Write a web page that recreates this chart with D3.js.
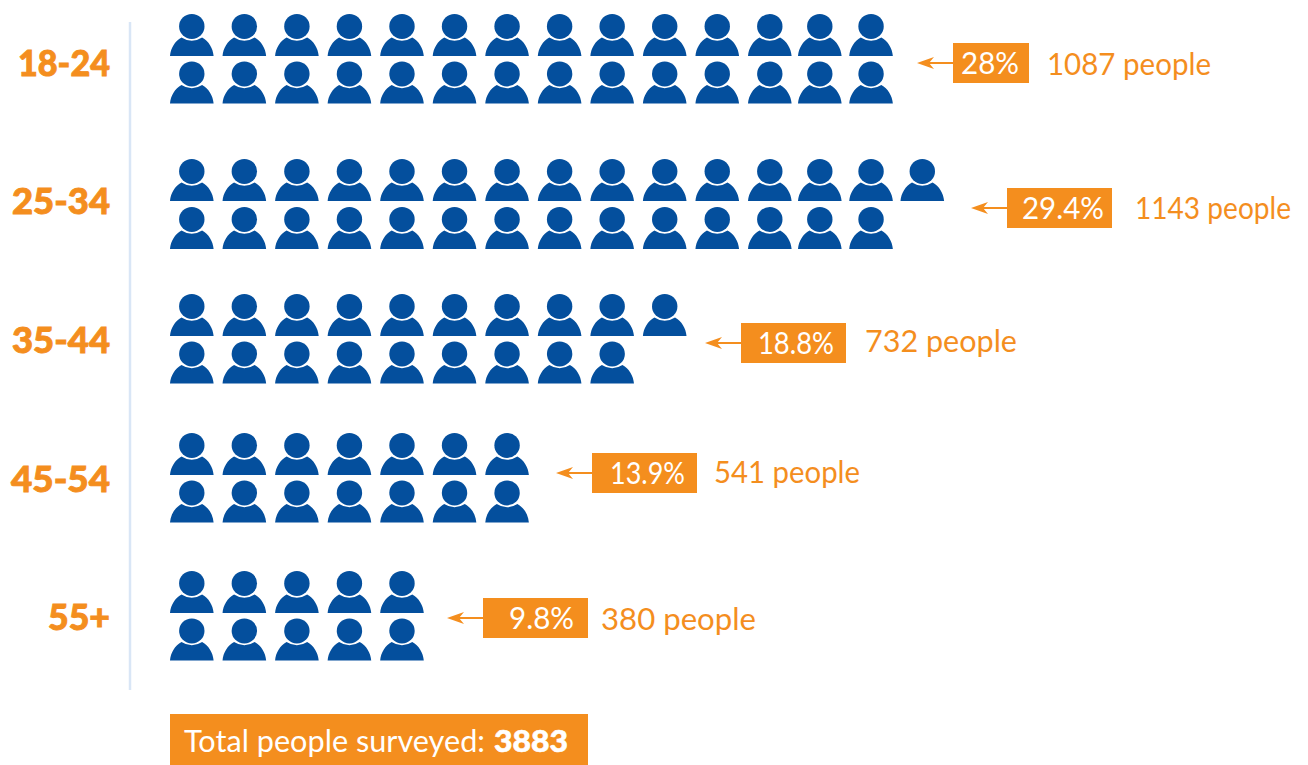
<!DOCTYPE html>
<html>
<head>
<meta charset="utf-8">
<script src="https://cdn.jsdelivr.net/npm/d3@7/dist/d3.min.js"></script>
<style>
  html, body { margin: 0; background: #fff; }
  svg { display: block; font-family: Lato, "Open Sans", sans-serif; }
</style>
</head>
<body>
<svg id="chart" width="1308" height="765"></svg>
<script>
// Survey respondents by age group: one icon per percentage point, in two rows.
const ageGroups   = ["18-24", "25-34", "35-44", "45-54", "55+"];
const percentages = [28, 29.4, 18.8, 13.9, 9.8];
const percentText = ["28%", "29.4%", "18.8%", "13.9%", "9.8%"];
const people      = [1087, 1143, 732, 541, 380];
const upperIcons  = [14, 15, 10, 7, 5];
const lowerIcons  = [14, 14, 9, 7, 5];
const totalPeople = 3883;

const ORANGE = "#f48e1e", BLUE = "#044f9d", RULE = "#d9e6f6";
const svg = d3.select("#chart");

// Placement of each group, expressed as ordinal scales over the age groups.
const rowTop     = d3.scaleOrdinal(ageGroups, [14, 159, 294, 433, 571]);
const rowGap     = d3.scaleOrdinal(ageGroups, [47.5, 48, 47.5, 47.5, 47.5]);
const labelY     = d3.scaleOrdinal(ageGroups, [76, 214, 353, 492, 630]);
const labelWidth = d3.scaleOrdinal(ageGroups, [92, 98, 98, 99, 62]);
const boxLeft    = d3.scaleOrdinal(ageGroups, [953, 1007, 741, 592, 483]);
const boxWidth   = d3.scaleOrdinal(ageGroups, [76, 105, 105, 105, 105]);
const boxMid     = d3.scaleOrdinal(ageGroups, [63, 208, 343, 473, 618]);
const pctInset   = d3.scaleOrdinal(ageGroups, [10, 8, 12, 12, 14]);
const pctWidth   = d3.scaleOrdinal(ageGroups, [58, 82, 76, 75, 65]);
const peopleX    = d3.scaleOrdinal(ageGroups, [1047, 1135, 865, 714, 601]);
const peopleY    = d3.scaleOrdinal(ageGroups, [75, 219, 352, 483, 630]);
const peopleW    = d3.scaleOrdinal(ageGroups, [164, 156, 152, 146, 155]);
const arrowLen   = 36;

// Icon columns sit on a slightly uneven grid towards the right-hand end.
const iconX = d3.scaleLinear().domain([0, 11, 12, 14]).range([170, 748, 798, 900.5]);

// Silhouette: shoulders with a shallow neck notch, and a round head above.
const bodyPath = "M0,42 C0.6,34 5,27 11.5,23.4 Q21.8,30 32.1,23.4 C38.6,27 43,34 43.6,42 Z";

svg.append("line")
  .attr("x1", 130).attr("x2", 130).attr("y1", 22).attr("y2", 690)
  .attr("stroke", RULE).attr("stroke-width", 2.5);

const groups = svg.selectAll("g.group")
  .data(ageGroups.map((g, i) => ({
    g, pct: percentages[i], pctLabel: percentText[i], n: people[i],
    rows: [upperIcons[i], lowerIcons[i]]
  })))
  .join("g").attr("class", "group");

groups.append("text")
  .attr("x", d => 110 - labelWidth(d.g)).attr("y", d => labelY(d.g))
  .attr("textLength", d => labelWidth(d.g))
  .attr("lengthAdjust", "spacingAndGlyphs")
  .attr("font-size", 36).attr("font-weight", 900)
  .attr("fill", ORANGE).attr("stroke", ORANGE).attr("stroke-width", 0.9)
  .text(d => d.g);

const rows = groups.selectAll("g.row")
  .data(d => d.rows.map((count, r) => ({ g: d.g, count, r })))
  .join("g").attr("class", "row")
  .attr("transform", d => `translate(0,${rowTop(d.g) + d.r * rowGap(d.g)})`);

const icons = rows.selectAll("g.icon")
  .data(d => d3.range(d.count))
  .join("g").attr("class", "icon")
  .attr("transform", i => `translate(${iconX(i)},0)`)
  .attr("fill", BLUE);
icons.append("path").attr("d", bodyPath);
icons.append("ellipse").attr("cx", 21.8).attr("cy", 12.4).attr("rx", 12.7).attr("ry", 12.5);

// Percentage tag with its arrow pointing back at the icons.
groups.append("rect")
  .attr("x", d => boxLeft(d.g)).attr("y", d => boxMid(d.g) - 20)
  .attr("width", d => boxWidth(d.g)).attr("height", 40)
  .attr("fill", ORANGE);
groups.append("line")
  .attr("x1", d => boxLeft(d.g) - arrowLen + 8).attr("x2", d => boxLeft(d.g))
  .attr("y1", d => boxMid(d.g)).attr("y2", d => boxMid(d.g))
  .attr("stroke", ORANGE).attr("stroke-width", 2);
groups.append("path")
  .attr("d", d => {
    const t = boxLeft(d.g) - arrowLen, y = boxMid(d.g);
    return `M${t},${y} L${t + 17},${y - 6} L${t + 12},${y} L${t + 17},${y + 6} Z`;
  })
  .attr("fill", ORANGE);
groups.append("text")
  .attr("x", d => boxLeft(d.g) + boxWidth(d.g) - pctInset(d.g) - pctWidth(d.g))
  .attr("y", d => boxMid(d.g) + 11)
  .attr("textLength", d => pctWidth(d.g))
  .attr("lengthAdjust", "spacingAndGlyphs")
  .attr("font-size", 31).attr("fill", "#fff")
  .text(d => d.pctLabel);
groups.append("text")
  .attr("x", d => peopleX(d.g)).attr("y", d => peopleY(d.g))
  .attr("textLength", d => peopleW(d.g))
  .attr("lengthAdjust", "spacingAndGlyphs")
  .attr("font-size", 31).attr("fill", ORANGE)
  .text(d => `${d.n} people`);

// Footer with the survey total.
svg.append("rect")
  .attr("x", 170).attr("y", 714).attr("width", 418).attr("height", 51)
  .attr("fill", ORANGE);
svg.append("text")
  .attr("x", 184).attr("y", 752)
  .attr("textLength", 301).attr("lengthAdjust", "spacingAndGlyphs")
  .attr("font-size", 31).attr("fill", "#fff")
  .text("Total people surveyed:");
svg.append("text")
  .attr("x", 494).attr("y", 752)
  .attr("textLength", 74).attr("lengthAdjust", "spacingAndGlyphs")
  .attr("font-size", 31).attr("font-weight", 900)
  .attr("fill", "#fff").attr("stroke", "#fff").attr("stroke-width", 0.6)
  .text(totalPeople);
</script>
</body>
</html>
